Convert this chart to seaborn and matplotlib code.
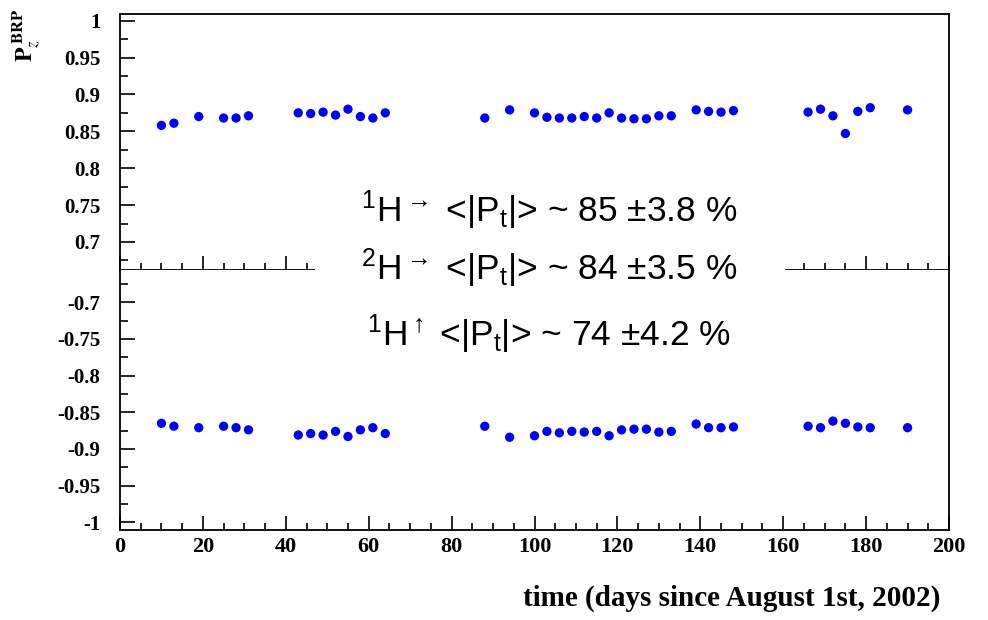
import matplotlib
matplotlib.use("Agg")
import matplotlib.pyplot as plt
import seaborn as sns
import pandas as pd
from matplotlib.patches import Rectangle
from matplotlib.ticker import MultipleLocator

days = [10, 13, 19, 25, 28, 31, 43, 46, 49, 52, 55, 58, 61, 64,
        88, 94, 100, 103, 106, 109, 112, 115, 118, 121, 124, 127, 130, 133,
        139, 142, 145, 148, 166, 169, 172, 175, 178, 181, 190]
pz_pos = [0.858, 0.861, 0.870, 0.868, 0.868, 0.871, 0.875, 0.874, 0.876, 0.872,
          0.880, 0.870, 0.868, 0.875,
          0.868, 0.879, 0.875, 0.869, 0.868, 0.868, 0.870, 0.868, 0.875, 0.868,
          0.867, 0.867, 0.871, 0.871, 0.879, 0.877, 0.876, 0.878,
          0.876, 0.880, 0.871, 0.847, 0.877, 0.882, 0.879]
pz_neg = [-0.865, -0.869, -0.871, -0.869, -0.871, -0.874, -0.881, -0.879, -0.881,
          -0.876, -0.883, -0.874, -0.871, -0.879,
          -0.869, -0.884, -0.882, -0.876, -0.878, -0.876, -0.877, -0.876, -0.882,
          -0.874, -0.873, -0.873, -0.877, -0.876, -0.866, -0.871, -0.871, -0.870,
          -0.869, -0.871, -0.862, -0.865, -0.870, -0.871, -0.871]
ytick_top = [0.7, 0.75, 0.8, 0.85, 0.9, 0.95, 1]
ytick_bot = [-1, -0.95, -0.9, -0.85, -0.8, -0.75, -0.7]
xticks = list(range(0, 201, 20))
lines = [r"$^{1}\mathrm{H}^{\rightarrow}$ <|P$_{\mathrm{t}}$|> ~ 85 ±3.8 %",
         r"$^{2}\mathrm{H}^{\rightarrow}$ <|P$_{\mathrm{t}}$|> ~ 84 ±3.5 %",
         r"$^{1}\mathrm{H}^{\mathbf{\uparrow}}$ <|P$_{\mathrm{t}}$|> ~ 74 ±4.2 %"]
xlabel = "time (days since August 1st, 2002)"

df = pd.DataFrame({"day": days, "pos": pz_pos, "neg": pz_neg})

sns.set_style("ticks")
plt.rcParams["font.family"] = ["Liberation Serif", "DejaVu Serif"]
plt.rcParams["text.color"] = "black"
plt.rcParams["xtick.color"] = "black"
plt.rcParams["ytick.color"] = "black"
plt.rcParams["mathtext.fontset"] = "custom"
plt.rcParams["mathtext.rm"] = "Liberation Sans"
plt.rcParams["mathtext.it"] = "Liberation Sans:italic"
plt.rcParams["mathtext.bf"] = "Liberation Sans:bold"

W, H = 988, 620
fig = plt.figure(figsize=(W / 100, H / 100), dpi=100)
L, R = 120, 949
ax1 = fig.add_axes([L / W, (H - 270) / H, (R - L) / W, (270 - 14) / H])
ax2 = fig.add_axes([L / W, (H - 530) / H, (R - L) / W, (530 - 270) / H])

sns.scatterplot(data=df, x="day", y="pos", ax=ax1, color="#0000ff", s=45,
                edgecolor="none", linewidth=0)
sns.scatterplot(data=df, x="day", y="neg", ax=ax2, color="#0000ff", s=45,
                edgecolor="none", linewidth=0)

for ax in (ax1, ax2):
    ax.set_xlim(0, 200)
    ax.set_xlabel("")
    ax.set_ylabel("")
    for sp in ax.spines.values():
        sp.set_visible(True)
        sp.set_linewidth(1.3)
        sp.set_color("black")
    ax.xaxis.set_major_locator(MultipleLocator(20))
    ax.xaxis.set_minor_locator(MultipleLocator(5))
    ax.yaxis.set_major_locator(MultipleLocator(0.05))
    ax.yaxis.set_minor_locator(MultipleLocator(0.025))
    ax.tick_params(axis="both", which="both", direction="in", top=False, right=False,
                   width=1.2, color="black", labelcolor="black")
    ax.tick_params(axis="y", which="major", length=11, pad=14, labelsize=15)
    ax.tick_params(axis="y", which="minor", length=6)
    ax.tick_params(axis="x", which="major", length=10, pad=5, labelsize=16)
    ax.tick_params(axis="x", which="minor", length=5)

ax1.set_ylim(0.662, 1.009)
ax1.set_yticks(ytick_top)
ax1.set_yticklabels([f"{v:g}" for v in ytick_top], fontweight="bold")
ax1.tick_params(axis="x", labelbottom=False)
ax2.set_ylim(-1.0105, -0.656)
ax2.set_yticks(ytick_bot)
ax2.set_yticklabels([f"{v:g}" for v in ytick_bot], fontweight="bold")
ax2.set_xticks(xticks)
ax2.set_xticklabels([str(v) for v in xticks], fontweight="bold")
ax2.spines["top"].set_visible(False)

fig.add_artist(Rectangle((315 / W, (H - 365) / H), (785 - 315) / W, (365 - 178) / H,
                         transform=fig.transFigure, facecolor="white",
                         edgecolor="none", zorder=10))
for txt, yc in zip(lines, [210, 268, 334]):
    fig.text(549 / W, (H - yc) / H, txt, ha="center", va="center", fontsize=25.5,
             family=["Liberation Sans", "DejaVu Sans"], color="black", zorder=11)

fig.text(940 / W, (H - 606) / H, xlabel, ha="right", va="baseline", fontsize=21,
         fontweight="bold", color="black")
fig.text(27 / W, 1 - 8 / H, r"$\mathbf{P}_{\mathit{z}}^{\ \mathbf{BRP}}$",
         rotation=90, ha="center", va="top", fontsize=17, math_fontfamily="stix",
         color="black")

fig.savefig("out.png", dpi=100)
